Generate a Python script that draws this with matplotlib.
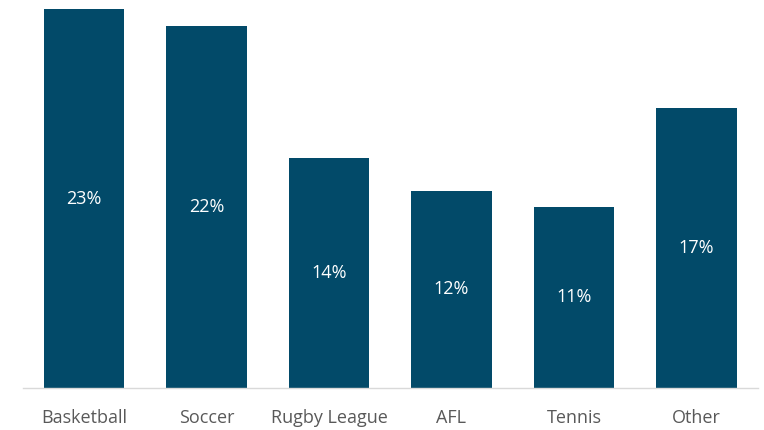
import matplotlib
matplotlib.use("Agg")
import matplotlib.pyplot as plt

sports = ["Basketball", "Soccer", "Rugby League", "AFL", "Tennis", "Other"]
shares = [23, 22, 14, 12, 11, 17]
labels = ["23%", "22%", "14%", "12%", "11%", "17%"]

bar_color = "#024a69"
text_color = "#595959"

plt.rcParams["font.family"] = ["Open Sans", "DejaVu Sans"]

fig = plt.figure(figsize=(7.64, 4.30), dpi=100)
ax = fig.add_axes([0.0298, 0.0977, 0.962, 0.9023])

x = range(len(sports))
bars = ax.bar(x, shares, width=0.66, color=bar_color)

for rect, lab in zip(bars, labels):
    ax.text(rect.get_x() + rect.get_width() / 2, rect.get_height() / 2, lab,
            ha="center", va="center", color="white", fontsize=13)

ax.set_xlim(-0.5, len(sports) - 0.5)
ax.set_ylim(0, 23 * 388 / (388 - 9.5))
ax.set_xticks(list(x))
ax.set_xticklabels(sports, fontsize=13, color=text_color)
ax.tick_params(axis="x", length=0, pad=15)
ax.set_yticks([])
for side in ["top", "right", "left"]:
    ax.spines[side].set_visible(False)
ax.spines["bottom"].set_color("#d9d9d9")
ax.spines["bottom"].set_linewidth(1.0)

fig.savefig("out.png", dpi=100)
